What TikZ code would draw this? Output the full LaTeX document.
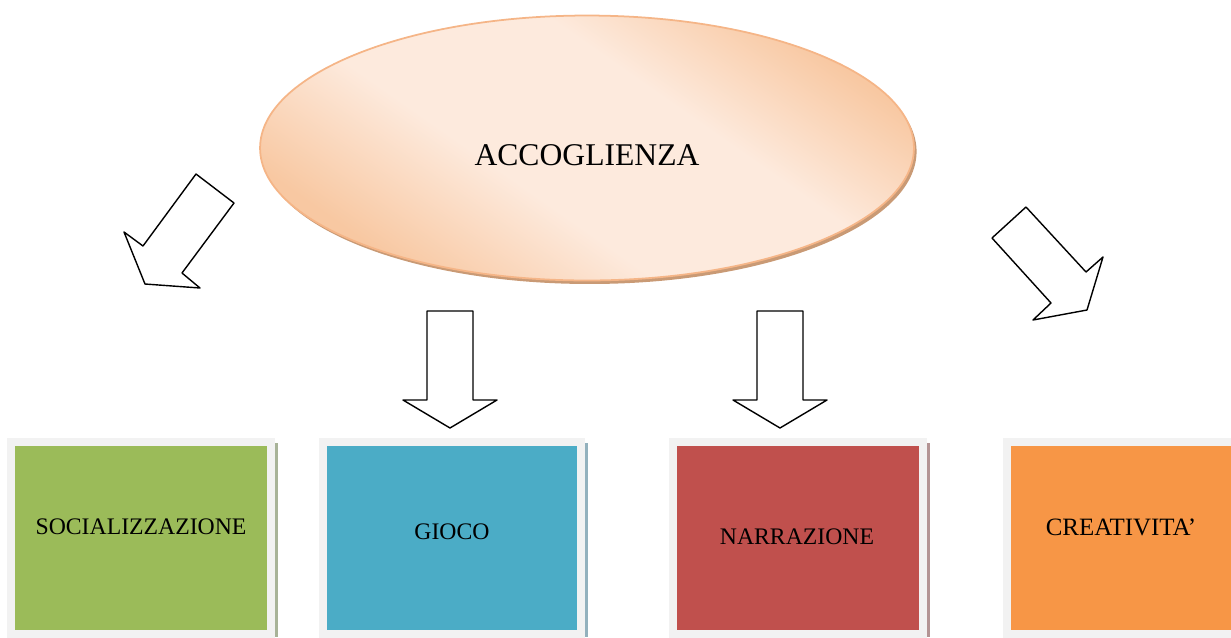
\documentclass[tikz,border=0pt]{standalone}
\usepackage{fontspec}
\setmainfont{Liberation Serif}
\usetikzlibrary{calc,shapes.geometric,shadows}

\definecolor{pescaChiaro}{HTML}{FDEADD}
\definecolor{pescaScuro}{HTML}{F8C8A2}
\definecolor{pescaBordo}{HTML}{F5B587}
\definecolor{pescaOmbra}{HTML}{C99A75}
\definecolor{cornice}{HTML}{F2F2F2}
\definecolor{verde}{HTML}{9BBB59}
\definecolor{azzurro}{HTML}{4BACC6}
\definecolor{rosso}{HTML}{C0504D}
\definecolor{arancio}{HTML}{F79646}
\definecolor{ombraVerde}{HTML}{A8B398}
\definecolor{ombraAzzurro}{HTML}{93B1BD}
\definecolor{ombraRosso}{HTML}{B39494}

\pgfdeclareverticalshading{sfumaPesca}{100bp}{color(0bp)=(pescaScuro); color(26bp)=(pescaScuro);
	color(42bp)=(pescaChiaro); color(60bp)=(pescaChiaro); color(75bp)=(pescaScuro); color(100bp)=(pescaScuro)}

\begin{document}
\begin{tikzpicture}[line join=round, line cap=round, x=0.02cm, y=-0.02cm,
	scatola/.style={rectangle, draw=cornice, line join=miter, line width=0.16cm, minimum width=5.2cm, minimum height=3.84cm, inner sep=0pt},
	testo/.style={font=\fontsize{13.5}{15}\selectfont, inner sep=0pt},
	freccia/.style={draw=black, fill=white, line width=0.8pt}]
	\useasboundingbox (0,0) rectangle (1231,637);
	% Ellisse centrale
	\node[ellipse, draw=pescaBordo, line width=1pt, minimum width=13.08cm, minimum height=5.3cm,
		shading=sfumaPesca, shading angle=-35,
		drop shadow={shadow xshift=1.5pt, shadow yshift=-2pt, fill=pescaOmbra, opacity=1}] (acc) at (587,148) {};
	\node[inner sep=0pt, font=\fontsize{18}{20}\selectfont] (accT) at (587,155) {ACCOGLIENZA};
	% Frecce
	\draw[freccia] (196,174)--(234,203)--(182,273)--(200,288)--(145,284)--(124,232)--(143,246)--cycle;
	\draw[freccia] (427,311)--(473,311)--(473,400)--(497,400)--(450,428)--(403,400)--(427,400)--cycle;
	\draw[freccia] (757,311)--(803,311)--(803,400)--(827,400)--(780,428)--(733,400)--(757,400)--cycle;
	\draw[freccia] (1026,207)--(1086,272)--(1103,257)--(1087,310)--(1033,320)--(1051,303)--(992,238)--cycle;
	% Riquadri
	\fill[ombraVerde] (275,443) rectangle (278,637);
	\fill[ombraAzzurro] (585,443) rectangle (588,637);
	\fill[ombraRosso] (927,443) rectangle (930,637);
	\node[scatola, fill=verde] (soc) at (141,538) {};
	\node[scatola, fill=azzurro, minimum width=5.16cm] (gio) at (452,538) {};
	\node[scatola, fill=rosso, minimum width=5cm] (nar) at (798,538) {};
	\node[scatola, fill=arancio] (cre) at (1137,538) {};
	\node[testo] (socT) at (141,527) {SOCIALIZZAZIONE};
	\node[testo] (gioT) at (452,532) {GIOCO};
	\node[testo] (narT) at (797,537) {NARRAZIONE};
	\node[testo, font=\fontsize{14.2}{15}\selectfont] (creT) at (1121,527) {CREATIVITA'};
\end{tikzpicture}
\end{document}
